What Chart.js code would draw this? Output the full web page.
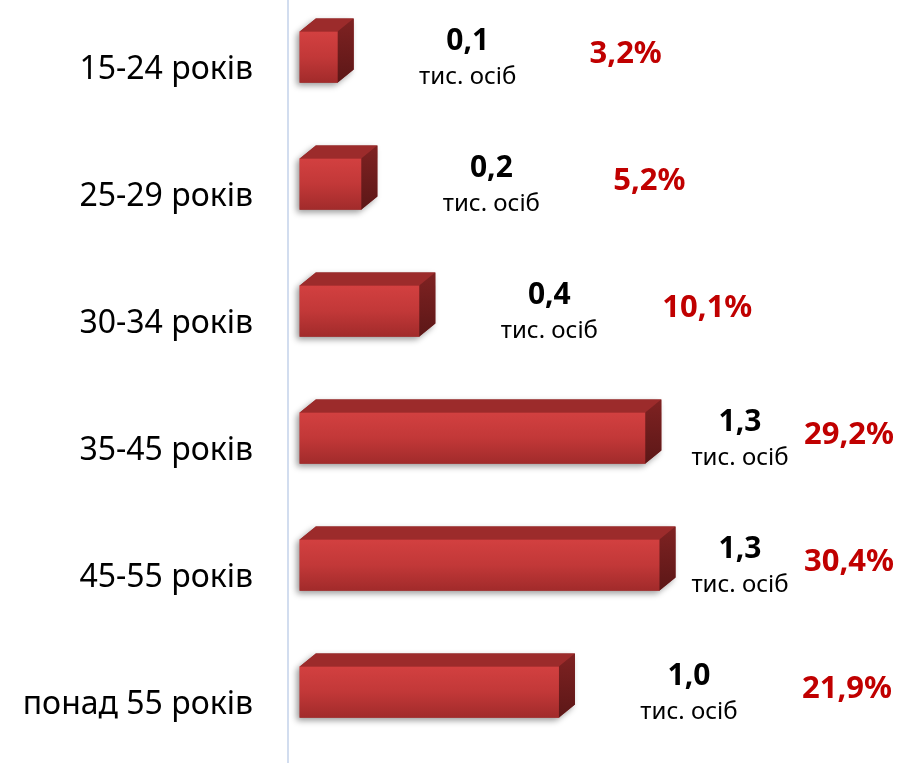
<!DOCTYPE html>
<html lang="uk">
<head>
<meta charset="utf-8">
<script src="https://cdn.jsdelivr.net/npm/chart.js@4"></script>
<style>
  html, body { margin: 0; padding: 0; background: #fff; }
  #wrap { width: 908px; height: 766px; position: relative; }
</style>
</head>
<body>
<div id="wrap"><canvas id="chart"></canvas></div>
<script>
// Data
const categories = ['15-24 років', '25-29 років', '30-34 років', '35-45 років', '45-55 років', 'понад 55 років'];
const sharePct   = [3.2, 5.2, 10.1, 29.2, 30.4, 21.9];
const thousands  = [0.1, 0.2, 0.4, 1.3, 1.3, 1.0];
const unitLabel  = 'тис. осіб';

const FONT = '"Noto Sans", "DejaVu Sans", sans-serif';
const DX = 16, DY = 13, SHIFT = -6.5;

function fmt(v) { return v.toFixed(1).replace('.', ','); }

// 3D bar faces + shift of the bars a bit upwards
const bars3d = {
  id: 'bars3d',
  beforeDatasetsDraw(chart) {
    const ctx = chart.ctx;
    ctx.save();
    ctx.translate(0, SHIFT);
    chart.getDatasetMeta(0).data.forEach(el => {
      const x0 = el.base, x1 = el.x, yT = el.y - el.height / 2, yB = el.y + el.height / 2;
      ctx.save();
      ctx.shadowColor = 'rgba(0,0,0,0.4)';
      ctx.shadowBlur = 6;
      ctx.shadowOffsetX = -3;
      ctx.shadowOffsetY = 3;
      ctx.fillStyle = '#8a2424';
      ctx.beginPath();
      ctx.moveTo(x0, yB);
      ctx.lineTo(x0, yT);
      ctx.lineTo(x0 + DX, yT - DY);
      ctx.lineTo(x1 + DX, yT - DY);
      ctx.lineTo(x1 + DX, yB - DY);
      ctx.lineTo(x1, yB);
      ctx.closePath();
      ctx.fill();
      ctx.restore();
    });
  },
  afterDatasetsDraw(chart) {
    const ctx = chart.ctx;
    chart.getDatasetMeta(0).data.forEach(el => {
      const x0 = el.base, x1 = el.x, yT = el.y - el.height / 2, yB = el.y + el.height / 2;
      // top face
      ctx.fillStyle = '#9c2b2b';
      ctx.beginPath();
      ctx.moveTo(x0, yT);
      ctx.lineTo(x0 + DX, yT - DY);
      ctx.lineTo(x1 + DX, yT - DY);
      ctx.lineTo(x1, yT);
      ctx.closePath();
      ctx.fill();
      // right face
      const g = ctx.createLinearGradient(0, yT - DY, 0, yB);
      g.addColorStop(0, '#7f2222');
      g.addColorStop(1, '#5c1717');
      ctx.fillStyle = g;
      ctx.beginPath();
      ctx.moveTo(x1, yT);
      ctx.lineTo(x1 + DX, yT - DY);
      ctx.lineTo(x1 + DX, yB - DY);
      ctx.lineTo(x1, yB);
      ctx.closePath();
      ctx.fill();
    });
    ctx.restore();

    // labels
    chart.getDatasetMeta(0).data.forEach((el, i) => {
      const yc = el.y + SHIFT;
      const vx = Math.min(el.x + 130, 740);
      const px = Math.min(vx + 158, 849);
      ctx.textAlign = 'center';
      ctx.textBaseline = 'middle';
      ctx.fillStyle = '#000';
      ctx.font = 'bold 30px ' + FONT;
      ctx.fillText(fmt(thousands[i]), vx, yc - 16);
      ctx.font = '24px ' + FONT;
      ctx.fillText(unitLabel, vx, yc + 20);
      ctx.fillStyle = '#c00000';
      ctx.font = 'bold 31px ' + FONT;
      ctx.fillText(fmt(sharePct[i]) + '%', px, yc - 3);
    });
  }
};

const ctx = document.getElementById('chart').getContext('2d');
new Chart(ctx, {
  type: 'bar',
  data: {
    labels: categories,
    datasets: [{
      data: sharePct,
      barThickness: 51,
      borderWidth: 0,
      backgroundColor: c => {
        const chart = c.chart;
        if (!chart.chartArea) return '#c03535';
        const y = chart.scales.y.getPixelForValue(c.dataIndex);
        const g = chart.ctx.createLinearGradient(0, y - 25, 0, y + 25);
        g.addColorStop(0, '#d24040');
        g.addColorStop(0.5, '#c23838');
        g.addColorStop(1, '#a22b2b');
        return g;
      }
    }]
  },
  options: {
    indexAxis: 'y',
    responsive: true,
    maintainAspectRatio: false,
    animation: false,
    layout: { padding: { top: 0, bottom: 4, left: 0, right: 0 } },
    plugins: { legend: { display: false }, tooltip: { enabled: false } },
    scales: {
      x: { display: false, min: -1, max: 51.4 },
      y: {
        afterFit: s => { s.width = 288; s.paddingTop = 0; s.paddingBottom = 0; },
        grid: { display: false, drawTicks: false },
        border: { display: true, color: '#d2ddef', width: 2 },
        ticks: { color: '#000', padding: 35, labelOffset: 6, font: { family: FONT, size: 32 } }
      }
    }
  },
  plugins: [bars3d]
});
</script>
</body>
</html>
